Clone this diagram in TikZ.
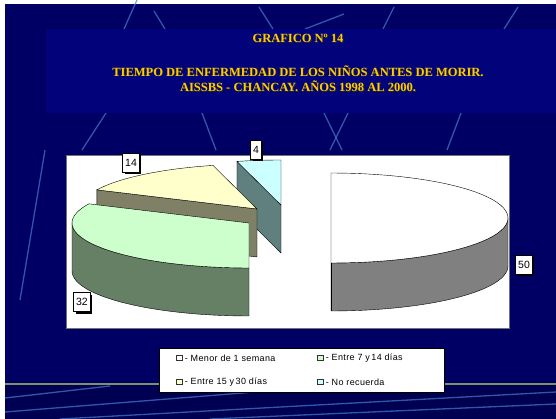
\documentclass[tikz,border=0pt]{standalone}
\usepackage{fontspec}
\setmainfont{Liberation Serif}
\newfontfamily\arial{Liberation Sans}
\newfontfamily\arialley{Liberation Sans}[LetterSpace=4]
\usetikzlibrary{shadows, positioning, calc}

\definecolor{fondo}{RGB}{0,0,100}
\definecolor{fondobajo}{RGB}{0,0,82}
\definecolor{cajatit}{RGB}{2,2,122}
\definecolor{amarillo}{RGB}{255,204,0}
\definecolor{raya}{RGB}{70,125,205}
\definecolor{horizonte}{RGB}{125,145,105}
\definecolor{ladob}{RGB}{128,128,128}
\definecolor{verdec}{RGB}{204,255,204}
\definecolor{ladov}{RGB}{102,128,102}
\definecolor{cremac}{RGB}{255,255,204}
\definecolor{ladok}{RGB}{128,128,102}
\definecolor{cianc}{RGB}{204,255,255}
\definecolor{ladoc}{RGB}{96,128,128}

\newcommand{\sombra}[1]{\leavevmode\rlap{\kern0.8pt\raisebox{-0.8pt}{\color{black!85}#1}}#1}
\def\rx{177}
\def\ry{45}
\def\dz{48}

\begin{document}
\begin{tikzpicture}[x=1pt,y=-1pt,
  titulo/.style={text=amarillo,font=\bfseries\fontsize{12.5}{15.5}\selectfont,inner sep=0pt},
  etiq/.style={draw=black,fill=white,font=\arial\fontsize{10.5}{11}\selectfont,inner xsep=2.5pt,inner ysep=1pt,minimum height=19pt,
    general shadow={fill=black,shadow xshift=2pt,shadow yshift=-2pt}},
  ley/.style={font=\arialley\fontsize{9}{10}\selectfont,anchor=west,inner sep=0pt},
  marca/.style={draw=black!80,thick,minimum width=5.5pt,minimum height=5pt,inner sep=0pt},
  rayita/.style={line width=1.3pt,raya,opacity=.7}
]
\useasboundingbox (0,0) rectangle (556,419);
\fill[white] (0,0) rectangle (556,419);
\fill[fondo] (5,4) rectangle (556,419);
\fill[fondobajo] (5,385) rectangle (556,419);

% rayas del fondo
\draw[rayita] (124,29) -- (137,0);
\draw[rayita] (154,11) -- (165,29);
\draw[rayita] (259,7) -- (273,29);
\draw[rayita] (305,29) -- (344,14);
\draw[rayita] (383,29) -- (394,7);
\draw[rayita] (504,29) -- (518,7);
\draw[rayita] (82,150) -- (106,113);
\draw[rayita] (202,113) -- (216,150);
\draw[rayita] (324,113) -- (342,150);
\draw[rayita] (348,113) -- (330,150);
\draw[rayita] (461,113) -- (447,150);
\draw[rayita] (45,150) -- (20,300);
\draw[rayita] (5,412) -- (330,386);
\draw[rayita] (60,419) -- (556,392);
\draw[rayita] (210,419) -- (556,404);
\draw[rayita] (5,398) -- (110,386);
\draw[horizonte,line width=1.5pt] (5,384) -- (556,384);

% titulo
\fill[cajatit] (46,29) rectangle (556,113);
\node[titulo] (grafico) at (298,39) {\sombra{GRAFICO Nº 14}};
\node[titulo,align=center] (tema) at (298,79) {\sombra{TIEMPO DE ENFERMEDAD DE LOS NIÑOS ANTES DE MORIR.}\\
  \sombra{AISSBS - CHANCAY. AÑOS 1998 AL 2000.}};

% area del grafico
\draw[fill=white,draw=black!55] (66,155) rectangle (509,328);

% menor de 1 semana
\draw[fill=ladob] plot[domain=0:-90,samples=30] ({331+\rx*cos(\x)},{218-\ry*sin(\x)})
  -- plot[domain=-90:0,samples=30] ({331+\rx*cos(\x)},{218+\dz-\ry*sin(\x)}) -- cycle;
\draw[fill=white] (331,173) -- plot[domain=90:-90,samples=50] ({331+\rx*cos(\x)},{218-\ry*sin(\x)}) -- cycle;
\draw (331,263) -- (331,311);

% no recuerda
\draw[fill=ladoc] (281,205) -- ++({\rx*cos(104.4)},{-\ry*sin(104.4)}) -- ++(0,\dz) -- (281,{205+\dz}) -- cycle;
\draw[fill=cianc] (281,205) -- plot[domain=90:104.4,samples=10] ({281+\rx*cos(\x)},{205-\ry*sin(\x)}) -- cycle;

% entre 15 y 30 dias
\draw[fill=ladok] (257,209) -- ++({\rx*cos(154.8)},{-\ry*sin(154.8)}) -- ++(0,\dz) -- (257,{209+\dz}) -- cycle;
\draw[fill=cremac] (257,209) -- plot[domain=104.4:154.8,samples=25] ({257+\rx*cos(\x)},{209-\ry*sin(\x)}) -- cycle;

% entre 7 y 14 dias
\draw[fill=ladov] plot[domain=180:270,samples=30] ({249+\rx*cos(\x)},{223-\ry*sin(\x)})
  -- plot[domain=270:180,samples=30] ({249+\rx*cos(\x)},{223+\dz-\ry*sin(\x)}) -- cycle;
\draw[fill=verdec] (249,223) -- plot[domain=154.8:270,samples=40] ({249+\rx*cos(\x)},{223-\ry*sin(\x)}) -- cycle;

% etiquetas
\node[etiq] (e50) at (524,265) {50};
\node[etiq] (e32) at (82,302) {32};
\node[etiq] (e14) at (131,163) {14};
\node[etiq] (e4) at (256,150) {4};

% leyenda
\node[draw=black,fill=white,minimum width=285pt,minimum height=44pt,inner sep=0pt] (leyenda) at (301.5,370) {};
\node[marca,fill=white] (m1) at (179.5,358) {};
\node[ley,right=2pt of m1] (l1) {- Menor de 1 semana};
\node[marca,fill=verdec] (m2) at (320.5,358) {};
\node[ley,right=2pt of m2] (l2) {- Entre 7 y\,14 días};
\node[marca,fill=cremac] (m3) at (179.5,382) {};
\node[ley,right=2pt of m3] (l3) {- Entre 15 y\,30 días};
\node[marca,fill=cianc] (m4) at (320.5,382) {};
\node[ley,right=2pt of m4] (l4) {- No recuerda};
\end{tikzpicture}
\end{document}
